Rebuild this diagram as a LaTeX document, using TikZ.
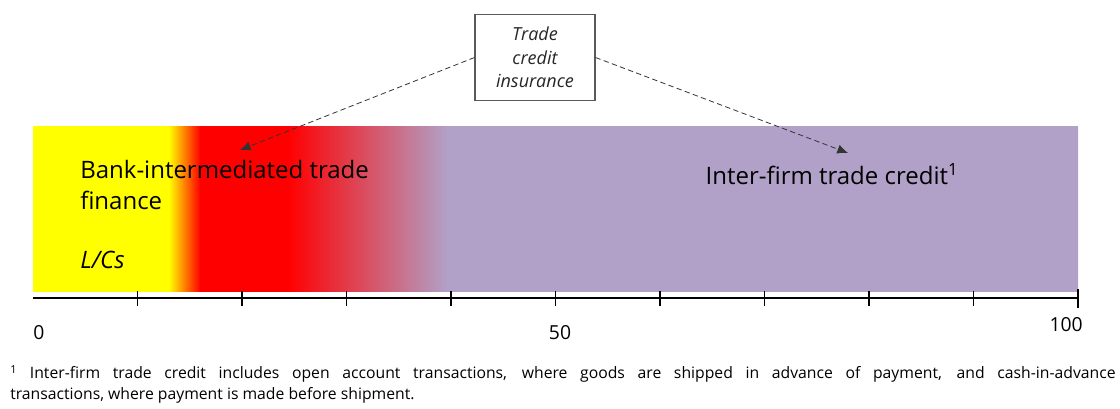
\documentclass[tikz,border=0pt]{standalone}
\usepackage{fontspec}
\setmainfont{Open Sans}
\usetikzlibrary{positioning,arrows.meta}
\definecolor{tcpurple}{RGB}{177,160,199}
\definecolor{boxgray}{RGB}{90,90,90}
% the bar is mapped onto the middle 25bp..75bp of the shading
\pgfdeclarehorizontalshading{tradebar}{100bp}{color(0bp)=(yellow); color(31.5bp)=(yellow); color(33bp)=(red); color(37.2bp)=(red); color(44.8bp)=(tcpurple); color(100bp)=(tcpurple)}
\tikzset{
  bartext/.style={font=\fontsize{18}{23.5}\selectfont, inner sep=0pt},
  axistext/.style={font=\fontsize{14.5}{16}\selectfont, inner sep=0pt},
  insbox/.style={draw=boxgray, line width=0.8pt, minimum width=90pt, minimum height=65pt,
    align=center, font=\itshape\fontsize{13.5}{17.5}\selectfont, inner sep=0pt, text=black!85},
  linkarrow/.style={dashed, dash pattern=on 4pt off 2.5pt, -{Latex[length=8pt,width=7pt]}, line width=0.6pt, black!80},
  tick/.style={line width=0.9pt}
}

\begin{document}
\begin{tikzpicture}[x=0.75pt, y=-0.75pt]
			%%%%% START %%%%%
			\useasboundingbox (0, 0) rectangle (1120, 408);
			
			\shade[shading=tradebar] (33, 126) rectangle (1078, 291);
			
			\draw[line width=1.6pt] (33, 298) -- (1078, 298);
			\foreach \k in {1,...,9}
				\draw[tick] ({33+10.45*\k*10}, 291) -- ({33+10.45*\k*10}, 306);
			\draw[tick] (1078, 289) -- (1078, 308);
			
			\node[axistext, anchor=base west] (zero) at (33, 339) {0};
			\node[axistext, anchor=base] (fifty) at (560, 339) {50};
			\node[axistext, anchor=base east] (hundred) at (1083, 331) {100};
			
			\node[bartext, anchor=north west, align=left] (bank) at (80, 160) {Bank-intermediated trade\\finance};
			\node[bartext, anchor=base west, font=\itshape\fontsize{18}{23.5}\selectfont] (lcs) at (80, 268) {L/Cs};
			\node[bartext, anchor=base] (firm) at (832, 184) {Inter-firm trade credit\textsuperscript{1}};
			
			\node[insbox] (ins) at (535, 57.5) {Trade\\credit\\insurance};
			
			\coordinate (bankpt) at (240, 150);
			\coordinate (firmpt) at (848, 153);
			\draw[linkarrow] (ins.west) -- (bankpt);
			\draw[linkarrow] (ins.east) -- (firmpt);
			
			\node[anchor=north west, inner sep=0pt, text width=829pt, align=justify,
				font=\fontsize{11.8}{15.75}\selectfont] (note) at (10, 365)
				{\textsuperscript{1} Inter-firm trade credit includes open account transactions, where goods are shipped in advance of payment, and cash-in-advance\linebreak transactions, where payment is made before shipment.};
			%%%%% END %%%%%
\end{tikzpicture}
\end{document}
